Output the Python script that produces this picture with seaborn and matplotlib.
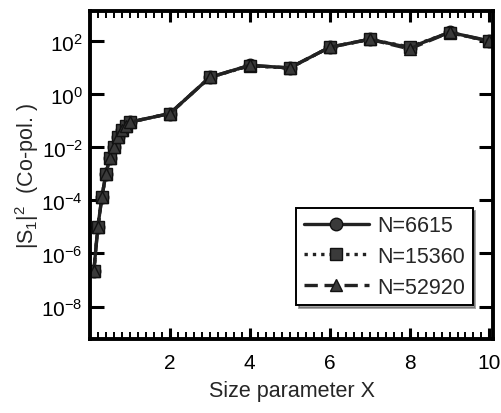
import numpy as np
import pandas as pd
import seaborn as sns
import matplotlib.pyplot as plt
from matplotlib.ticker import MultipleLocator

# size parameter X
size_x = [0.1, 0.2, 0.3, 0.4, 0.5, 0.6, 0.7, 0.8, 0.9, 1.0, 2, 3, 4, 5, 6, 7, 8, 9, 10]

# |S1|^2 co-pol, one list per dipole count
s1_n6615 = [2.2e-7, 1.0e-5, 1.3e-4, 1.0e-3, 4.0e-3, 1.0e-2, 2.5e-2, 4.5e-2, 6.5e-2, 9.0e-2,
            0.19, 4.4, 12.5, 10.0, 60, 120, 58, 220, 105]
s1_n15360 = [2.1e-7, 1.0e-5, 1.3e-4, 1.0e-3, 4.0e-3, 1.0e-2, 2.5e-2, 4.5e-2, 6.5e-2, 9.0e-2,
             0.19, 4.4, 12.0, 9.8, 60, 118, 62, 215, 100]
s1_n52920 = [2.2e-7, 1.0e-5, 1.3e-4, 1.0e-3, 4.0e-3, 1.0e-2, 2.5e-2, 4.5e-2, 6.5e-2, 9.0e-2,
             0.19, 4.4, 12.5, 10.0, 60, 120, 52, 218, 102]

labels = ["N=6615", "N=15360", "N=52920"]

MARK_COLOR = "#3a3a3a"
FS = 15


def main():
    df = pd.concat([
        pd.DataFrame({"X": size_x, "S1": vals, "N": lab})
        for vals, lab in zip([s1_n6615, s1_n15360, s1_n52920], labels)
    ])

    sns.set_style("ticks")
    plt.rcParams["font.family"] = ["Liberation Sans", "DejaVu Sans"]
    plt.rcParams["mathtext.fontset"] = "custom"
    plt.rcParams["mathtext.rm"] = "Liberation Sans"
    plt.rcParams["mathtext.it"] = "Liberation Sans"

    fig = plt.figure(figsize=(5.02, 4.14), dpi=100)
    ax = fig.add_axes([0.179, 0.179, 0.804, 0.792])

    sns.lineplot(data=df, x="X", y="S1", hue="N", style="N",
                 palette=[MARK_COLOR] * 3, markers=["o", "s", "^"],
                 dashes=["", (1, 1.5), (4, 2)], markersize=9,
                 markeredgecolor="#111111", markeredgewidth=1,
                 linewidth=2.4, ax=ax)
    for ln in ax.get_lines():
        ln.set_color("#222222")
        ln.set_markerfacecolor(MARK_COLOR)

    ax.set_yscale("log")
    ax.set_xlim(0, 10.1)
    ax.set_ylim(6e-10, 1.4e3)
    ax.set_yticks([1e-8, 1e-6, 1e-4, 1e-2, 1e0, 1e2])
    ax.yaxis.set_minor_locator(plt.NullLocator())
    ax.set_xticks([2, 4, 6, 8, 10])
    ax.xaxis.set_minor_locator(MultipleLocator(0.2))

    ax.tick_params(which="both", direction="in", top=True, right=True,
                   labelsize=FS, colors="black")
    ax.tick_params(which="major", length=10, width=2.2)
    ax.tick_params(axis="x", which="major", length=8, pad=10)
    ax.tick_params(axis="y", which="major", pad=5)
    ax.tick_params(which="minor", length=5, width=1.4)
    for sp in ax.spines.values():
        sp.set_linewidth(2.8)
        sp.set_color("black")

    ax.set_xlabel("Size parameter X", fontsize=FS + 0.5, labelpad=6)
    ax.set_ylabel(r"$|S_1|^2$  (Co-pol. )", fontsize=FS + 0.5, labelpad=0)

    handles, _ = ax.get_legend_handles_labels()
    leg = ax.legend(handles, labels, loc="lower right",
                    bbox_to_anchor=(0.975, 0.07), fontsize=FS + 0.5,
                    frameon=True, fancybox=False, shadow=True,
                    handlelength=3.0, handletextpad=0.4, borderpad=0.35,
                    labelspacing=0.45)
    leg.get_frame().set_edgecolor("black")
    leg.get_frame().set_linewidth(1.4)

    fig.savefig("out.png", dpi=100)


if __name__ == "__main__":
    main()
